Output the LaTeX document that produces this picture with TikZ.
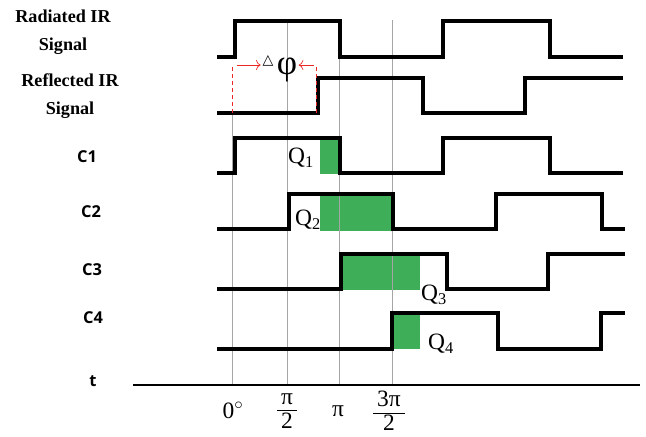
\documentclass[tikz,border=0pt]{standalone}
\usepackage{fontspec}
\setmainfont{Liberation Serif}
\newfontfamily\chanfont{Open Sans}
\newfontfamily\symfont{DejaVu Sans}
\usepackage{xcolor}
\usepackage{tikz}
\usetikzlibrary{arrows.meta}
\definecolor{qgreen}{RGB}{62, 174, 88}
\definecolor{gridgray}{RGB}{165, 165, 165}
\definecolor{phired}{RGB}{235, 40, 40}
\newcommand{\halfof}[1]{$\frac{\raisebox{0.1em}{\,#1\,}}{\raisebox{-0.14em}{2}}$}

\begin{document}
\begin{tikzpicture}[x=0.03cm, y=-0.03cm,
    wave/.style={line width=2.7pt},
    gridline/.style={draw=gridgray, line width=0.7pt},
    sigtext/.style={font=\fontsize{15.5}{24}\selectfont\bfseries, align=center},
    chantext/.style={font=\fontsize{14}{16}\selectfont\chanfont\bfseries},
    qtext/.style={font=\fontsize{20}{22}\selectfont, inner sep=0pt},
    ticktext/.style={font=\fontsize{20}{22}\selectfont, inner sep=0pt},
    shift arrow/.style={draw=phired, line width=0.6pt, -{To[length=4pt]}}]
    \useasboundingbox (0,0) rectangle (646,436);

    % row labels
    \node[sigtext] (radlbl) at (63,32) {Radiated IR\\Signal};
    \node[sigtext] (reflbl) at (70,96) {Reflected IR\\Signal};
    \node[chantext] (c1lbl) at (87,157) {C1};
    \node[chantext] (c2lbl) at (91,212) {C2};
    \node[chantext] (c3lbl) at (92,270) {C3};
    \node[chantext] (c4lbl) at (93,318) {C4};
    \node[chantext] (tlbl) at (93,381) {t};

    % charge windows
    \fill[qgreen] (320,138) rectangle (340,174);
    \fill[qgreen] (320,194) rectangle (393,231);
    \fill[qgreen] (341,254) rectangle (420,290);
    \fill[qgreen] (392,313) rectangle (420,349);

    % phase grid
    \foreach \x in {287, 339, 392} {
        \draw[gridline] (\x,20) -- (\x,385);
    }
    \draw[gridline] (232,113) -- (232,385);

    % time axis
    \draw[line width=1.4pt] (133,385) -- (640,385);
    \node[ticktext] (t0) at (233,410) {0$^\circ$};
    \node[ticktext] (t1) at (287,411) {\halfof{π}};
    \node[ticktext] (t2) at (338,411) {π};
    \node[ticktext] (t3) at (389,411) {\halfof{3π}};

    % signals
    \draw[wave] (217,57) -- (235,57) -- (235,21) -- (340,21) -- (340,57)
        -- (443,57) -- (443,21) -- (550,21) -- (550,57) -- (623,57);
    \draw[wave] (217,113) -- (318,113) -- (318,78) -- (423,78) -- (423,113)
        -- (525,113) -- (525,78) -- (623,78);
    \draw[wave] (217,173) -- (235,173) -- (235,138) -- (340,138) -- (340,173)
        -- (443,173) -- (443,138) -- (550,138) -- (550,173) -- (623,173);
    \draw[wave] (217,229) -- (289,229) -- (289,194) -- (393,194) -- (393,229)
        -- (496,229) -- (496,194) -- (602,194) -- (602,229) -- (625,229);
    \draw[wave] (217,289) -- (341,289) -- (341,254) -- (447,254) -- (447,289)
        -- (548,289) -- (548,254) -- (625,254);
    \draw[wave] (217,349) -- (392,349) -- (392,313) -- (498,313) -- (498,349)
        -- (601,349) -- (601,313) -- (625,313);

    % phase shift
    \coordinate (shiftL) at (232,65);
    \coordinate (shiftR) at (316,65);
    \draw[phired, dashed, line width=0.6pt] (232,113) -- (shiftL);
    \draw[phired, dashed, line width=0.6pt] (316,113) -- (shiftR);
    \draw[shift arrow] ([xshift=4]shiftL) -- ++(24,0);
    \draw[shift arrow] ([xshift=-2]shiftR) -- ++(-15,0);
    \node[font=\fontsize{12}{13}\selectfont\symfont, inner sep=0pt] (dlt) at (268,61) {△};
    \node[font=\fontsize{30}{32}\selectfont, inner sep=0pt] (phi) at (287,70) {φ};

    % charge labels
    \node[qtext] (q1) at (301,158) {Q\textsubscript{1}};
    \node[qtext] (q2) at (308,220) {Q\textsubscript{2}};
    \node[qtext] (q3) at (434,295) {Q\textsubscript{3}};
    \node[qtext] (q4) at (441,344) {Q\textsubscript{4}};
\end{tikzpicture}
\end{document}
